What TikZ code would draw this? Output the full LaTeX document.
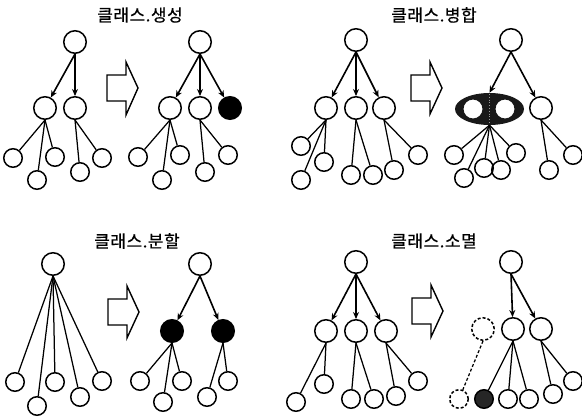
\documentclass[tikz,border=0pt]{standalone}
\usepackage{fontspec}
\newfontfamily\kr[LetterSpace=3,FakeBold=0.6]{Noto Sans CJK KR}
\usetikzlibrary{arrows.meta,shapes.geometric}
\begin{document}
\begin{tikzpicture}[x=1pt,y=-1pt,
  lw/.style={line width=1.5pt},
  big/.style={circle,draw,lw,minimum size=22.5pt,inner sep=0pt},
  leaf/.style={circle,draw,lw,minimum size=18.5pt,inner sep=0pt},
  dark/.style={fill=black},
  ghost/.style={circle,draw,dash pattern=on 3pt off 2pt,lw,minimum size=22.5pt,inner sep=0pt},
  ghostleaf/.style={circle,draw,dash pattern=on 3pt off 2pt,lw,minimum size=18.5pt,inner sep=0pt},
  arr/.style={line width=1.6pt,-{Stealth[length=7pt,width=6pt]}},
  ln/.style={line width=1.25pt},
  title/.style={font=\kr\fontsize{17pt}{19pt}\selectfont,inner sep=0pt},
  blk/.style={draw,line width=1.4pt,fill=white,line join=miter}]
\useasboundingbox (0,0) rectangle (582,418);

% titles
\node[title] (t1) at (140,15) {클래스.생성};
\node[title] (t2) at (434,15) {클래스.병합};
\node[title] (t3) at (137,241) {클래스.분할};
\node[title] (t4) at (434,241) {클래스.소멸};

% block arrows
\draw[blk] (107,75) -- (126,75) -- (126,62) -- (138,88) -- (126,115) -- (126,101) -- (107,101) -- cycle;
\draw[blk] (411,75) -- (430,75) -- (430,62) -- (442,88) -- (430,114) -- (430,101) -- (411,101) -- cycle;
\draw[blk] (108,299) -- (127,299) -- (127,286) -- (139,312) -- (127,338) -- (127,325) -- (108,325) -- cycle;
\draw[blk] (412,298) -- (431,298) -- (431,285) -- (443,311) -- (431,337) -- (431,324) -- (412,324) -- cycle;

% ---------- Panel 1 A
\node[big] (ar) at (75,42) {};
\node[big] (am1) at (45,108) {};
\node[big] (am2) at (75,108) {};
\node[leaf] (al1) at (13,158) {};
\node[leaf] (al2) at (37,180) {};
\node[leaf] (al3) at (55,157) {};
\node[leaf] (al4) at (80,172) {};
\node[leaf] (al5) at (102,158) {};
\draw[arr] (ar.south) -- (am1);
\draw[arr] (ar.south) -- (am2);
\foreach \l in {al1,al2,al3} \draw[ln] (am1.south) -- (\l);
\foreach \l in {al4,al5} \draw[ln] (am2.south) -- (\l);

% ---------- Panel 1 B
\node[big] (br) at (200,42) {};
\node[big] (bm1) at (170,108) {};
\node[big] (bm2) at (200,108) {};
\node[big,dark] (bm3) at (230,108) {};
\node[leaf] (bl1) at (138,157) {};
\node[leaf] (bl2) at (162,180) {};
\node[leaf] (bl3) at (180,155) {};
\node[leaf] (bl4) at (205,172) {};
\node[leaf] (bl5) at (228,155) {};
\draw[arr] (br.south) -- (bm1);
\draw[arr] (br.south) -- (bm2);
\draw[arr] (br.south) -- (bm3);
\foreach \l in {bl1,bl2,bl3} \draw[ln] (bm1.south) -- (\l);
\foreach \l in {bl4,bl5} \draw[ln] (bm2.south) -- (\l);

% ---------- Panel 2 A
\node[big] (cr) at (356,40) {};
\node[big] (cm1) at (326,108) {};
\node[big] (cm2) at (356,108) {};
\node[big] (cm3) at (384,108) {};
\node[leaf] (cl1) at (301,146) {};
\node[leaf] (cl2) at (324,162) {};
\node[leaf] (cl3) at (301,180) {};
\node[leaf] (cl4) at (351,175) {};
\node[leaf] (cl5) at (373,175) {};
\node[leaf] (cl6) at (394,170) {};
\node[leaf] (cl7) at (418,155) {};
\draw[arr] (cr.south) -- (cm1);
\draw[arr] (cr.south) -- (cm2);
\draw[arr] (cr.south) -- (cm3);
\foreach \l in {cl1,cl2,cl3} \draw[ln] (cm1.south) -- (\l);
\foreach \l in {cl4,cl5} \draw[ln] (cm2.south) -- (\l);
\foreach \l in {cl6,cl7} \draw[ln] (cm3.south) -- (\l);

% ---------- Panel 2 B
\node[big] (dr) at (511,40) {};
\node[ellipse,minimum width=69pt,minimum height=32pt,inner sep=0pt] (de) at (489.5,109) {};
\fill[black!90,even odd rule] (489.5,109) ellipse [x radius=34.5, y radius=16]
  (473,109) circle [radius=9.5] (505,109) circle [radius=9.5];
\draw[black!40,line width=0.8pt,dotted] (489.5,94) -- (489.5,124);
\node[big] (dm) at (541,108) {};
\node[leaf] (dl1) at (454,155) {};
\node[leaf] (dl2) at (464,178) {};
\node[leaf] (dl3) at (484,168) {};
\node[leaf] (dl4) at (501,170) {};
\node[leaf] (dl5) at (516,153) {};
\node[leaf] (dl6) at (549,170) {};
\node[leaf] (dl7) at (573,155) {};
\draw[arr] (dr.south) -- (de.north);
\draw[arr] (dr.south) -- (dm);
\foreach \l in {dl1,dl2,dl3,dl4,dl5} \draw[ln] (de.south) -- (\l);
\foreach \l in {dl6,dl7} \draw[ln] (dm.south) -- (\l);

% ---------- Panel 3 A
\node[big] (er) at (53,264) {};
\node[leaf] (el1) at (15,382) {};
\node[leaf] (el2) at (37,406) {};
\node[leaf] (el3) at (55,382) {};
\node[leaf] (el4) at (80,397) {};
\node[leaf] (el5) at (102,381) {};
\foreach \l in {el1,el2,el3,el4,el5} \draw[ln] (er.south) -- (\l);

% ---------- Panel 3 B
\node[big] (fr) at (200,264) {};
\node[big,dark] (fm1) at (172,331) {};
\node[big,dark] (fm2) at (223,331) {};
\node[leaf] (fl1) at (140,381) {};
\node[leaf] (fl2) at (163,402) {};
\node[leaf] (fl3) at (182,381) {};
\node[leaf] (fl4) at (207,397) {};
\node[leaf] (fl5) at (228,381) {};
\draw[arr] (fr.south) -- (fm1);
\draw[arr] (fr.south) -- (fm2);
\foreach \l in {fl1,fl2,fl3} \draw[ln] (fm1.south) -- (\l);
\foreach \l in {fl4,fl5} \draw[ln] (fm2.south) -- (\l);

% ---------- Panel 4 A
\node[big] (gr) at (356,262) {};
\node[big] (gm1) at (326,331) {};
\node[big] (gm2) at (356,331) {};
\node[big] (gm3) at (386,331) {};
\node[leaf] (gl1) at (296,402) {};
\node[leaf] (gl2) at (324,384) {};
\node[leaf] (gl3) at (351,399) {};
\node[leaf] (gl4) at (374,399) {};
\node[leaf] (gl5) at (396,396) {};
\node[leaf] (gl6) at (418,381) {};
\draw[arr] (gr.south) -- (gm1);
\draw[arr] (gr.south) -- (gm2);
\draw[arr] (gr.south) -- (gm3);
\foreach \l in {gl1,gl2} \draw[ln] (gm1.south) -- (\l);
\foreach \l in {gl3,gl4} \draw[ln] (gm2.south) -- (\l);
\foreach \l in {gl5,gl6} \draw[ln] (gm3.south) -- (\l);

% ---------- Panel 4 B
\node[big] (hr) at (511,262) {};
\node[ghost] (hg) at (483,329) {};
\node[big] (hm1) at (513,329) {};
\node[big] (hm2) at (541,329) {};
\node[ghostleaf] (hgl) at (459,399) {};
\node[leaf,fill=black!85] (hl1) at (484,399) {};
\node[leaf] (hl2) at (508,399) {};
\node[leaf] (hl3) at (529,399) {};
\node[leaf] (hl4) at (553,394) {};
\node[leaf] (hl5) at (573,381) {};
\draw[arr] (hr.south) -- (hm1);
\draw[arr] (hr.south) -- (hm2);
\draw[ln,dash pattern=on 3pt off 2pt] (hg.south) -- (hgl);
\foreach \l in {hl1,hl2,hl3} \draw[ln] (hm1.south) -- (\l);
\foreach \l in {hl4,hl5} \draw[ln] (hm2.south) -- (\l);
\end{tikzpicture}
\end{document}
